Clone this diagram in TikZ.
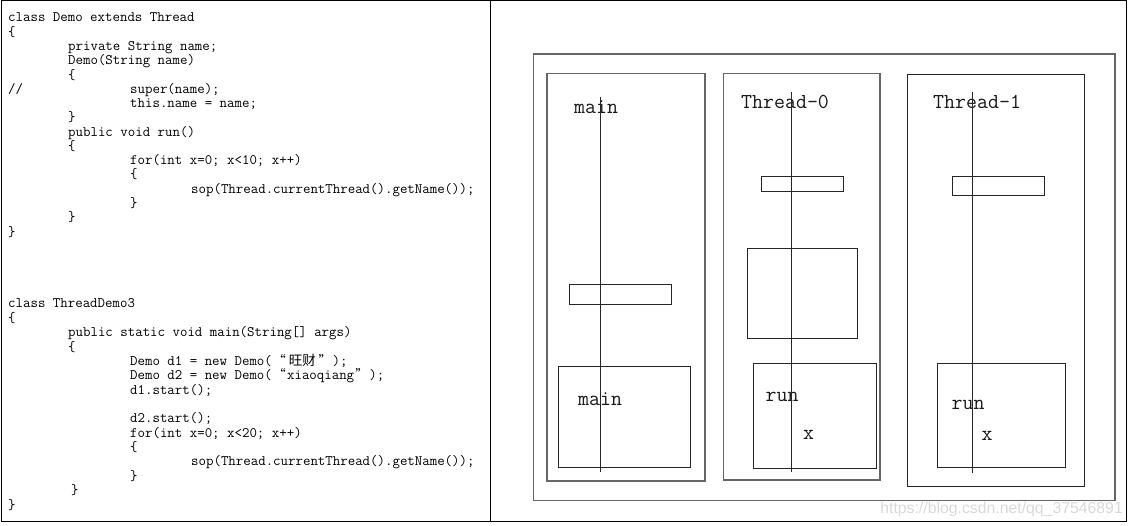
\documentclass[tikz,border=0pt]{standalone}
\usepackage{fontspec}
\newfontfamily\cjk{Noto Sans CJK SC}
\newfontfamily\wmfont{Liberation Sans}
\newcommand{\oq}{\makebox[15.2pt]{\cjk\fontsize{13}{14}\selectfont “}}
\newcommand{\cq}{\makebox[15.2pt]{\cjk\fontsize{13}{14}\selectfont ”}}
\newcommand{\wangcai}{\makebox[30.4pt]{\cjk\fontsize{13.5}{14}\selectfont 旺财}}
\begin{document}
\begin{tikzpicture}[x=1pt,y=-1pt,
  code/.style={anchor=base west, inner sep=0, font=\ttfamily\fontsize{14.48}{15}\selectfont},
  lbl/.style={anchor=base west, inner sep=0, text=black!90, font=\ttfamily\fontsize{21.3}{22}\selectfont},
  framebox/.style={draw=black, line width=1pt},
  gbox/.style={draw=black!60, line width=1.3pt},
  ibox/.style={draw=black!85, line width=1pt},
  life/.style={draw=black!85, line width=1pt}]
\useasboundingbox (0,0) rectangle (1131,526);
% outer frame and divider
\draw[framebox] (1,1) rectangle (1126.5,521.7);
\coordinate (divtop) at (490.7,1);
\coordinate (divbot) at (490.7,521.7);
\draw[framebox] (divtop) -- (divbot);

% code block 1
\foreach \n/\x/\t [count=\i] in {
  0/8/{class Demo extends Thread},
  1/8/{\{},
  2/68/{private String name;},
  3/68/{Demo(String name)},
  4/68/{\{},
  5/8/{//},
  5/130/{super(name);},
  6/130/{this.name = name;},
  7/68/{\}},
  8/68/{public void run()},
  9/68/{\{},
  10/130/{for(int x=0; x<10; x++)},
  11/130/{\{},
  12/191/{sop(Thread.currentThread().getName());},
  13/130/{\}},
  14/68/{\}},
  15/8/{\}}}
  \node[code] (a\i) at (\x,{22+\n*14.27}) {\t};

% code block 2
\foreach \n/\x/\t [count=\i] in {
  0/8/{class ThreadDemo3},
  1/8/{\{},
  2/68/{public static void main(String[] args)},
  3/68/{\{},
  4/130/{Demo d1 = new Demo(\oq\wangcai\cq);},
  5/130/{Demo d2 = new Demo(\oq xiaoqiang\cq);},
  6/130/{d1.start();},
  8/130/{d2.start();},
  9/130/{for(int x=0; x<20; x++)},
  10/130/{\{},
  11/191/{sop(Thread.currentThread().getName());},
  12/130/{\}},
  13/71/{\}},
  14/8/{\}}}
  \node[code] (b\i) at (\x,{308+\n*14.36}) {\t};

% memory diagram
\draw[gbox] (533.3,54) rectangle (1115,500.7);

% main thread
\draw[gbox] (547,73.7) rectangle (705,481);
\draw[ibox] (569,284.7) rectangle (671.7,304);
\draw[ibox] (558.3,366.3) rectangle (690.7,467.7);
\node[lbl] (mainT) at (574,114) {main};
\node[lbl] (mainS) at (578,405) {main};
\coordinate (m1) at (600.3,96.7);
\coordinate (m2) at (600.3,471.7);
\draw[life] (m1) -- (m2);

% Thread-0
\draw[gbox] (723.7,73.7) rectangle (880,480);
\draw[ibox] (761,176.7) rectangle (843.7,191.3);
\draw[ibox] (747.7,248.7) rectangle (857,338.3);
\draw[ibox] (753.3,363.3) rectangle (876,468.3);
\node[lbl] (t0T) at (741,109) {Thread-0};
\node[lbl] (t0run) at (765.5,401.7) {run};
\node[lbl] (t0x) at (803,439.3) {x};
\coordinate (p1) at (791.7,92.3);
\coordinate (p2) at (791.7,471.7);
\draw[life] (p1) -- (p2);

% Thread-1
\draw[ibox] (907.3,74.3) rectangle (1084.3,486.7);
\draw[ibox] (952.3,176.3) rectangle (1044.3,196);
\draw[ibox] (937,363.3) rectangle (1065.7,467.7);
\node[lbl] (t1T) at (933,108.3) {Thread-1};
\node[lbl] (t1run) at (951.5,409.3) {run};
\node[lbl] (t1x) at (981.3,440.7) {x};
\coordinate (q1) at (972.3,92.3);
\coordinate (q2) at (972.3,473.3);
\draw[life] (q1) -- (q2);

% watermark
\node[anchor=base east, inner sep=0, text=black!15, font=\wmfont\fontsize{15.8}{16}\selectfont] (wm) at (1123,513) {https://blog.csdn.net/qq\_37546891};
\end{tikzpicture}
\end{document}
